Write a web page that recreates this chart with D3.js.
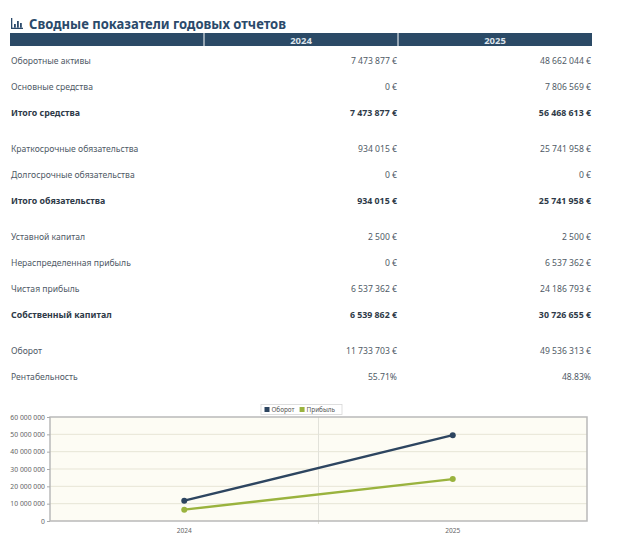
<!DOCTYPE html>
<html>
<head>
<meta charset="utf-8">
<script src="https://cdn.jsdelivr.net/npm/d3@7"></script>
<style>
  body { margin: 0; background: #fff; }
  svg text { font-family: "Noto Sans", "Open Sans", sans-serif; }
</style>
</head>
<body>
<div id="chart"></div>
<script>
// данные таблицы
const years = ['2024', '2025'];
const rowLabels = [
  'Оборотные активы', 'Основные средства', 'Итого средства',
  'Краткосрочные обязательства', 'Долгосрочные обязательства', 'Итого обязательства',
  'Уставной капитал', 'Нераспределенная прибыль', 'Чистая прибыль', 'Собственный капитал',
  'Оборот', 'Рентабельность'
];
const values2024 = [
  '7 473 877 €', '0 €', '7 473 877 €',
  '934 015 €', '0 €', '934 015 €',
  '2 500 €', '0 €', '6 537 362 €', '6 539 862 €',
  '11 733 703 €', '55.71%'
];
const values2025 = [
  '48 662 044 €', '7 806 569 €', '56 468 613 €',
  '25 741 958 €', '0 €', '25 741 958 €',
  '2 500 €', '6 537 362 €', '24 186 793 €', '30 726 655 €',
  '49 536 313 €', '48.83%'
];
const boldRows = [2, 5, 9];
const groupStarts = [3, 6, 10];

// данные графика
const seriesNames = ['Оборот', 'Прибыль'];
const turnover = [11733703, 49536313];
const profit = [6537362, 24186793];
const yTicks = [0, 10000000, 20000000, 30000000, 40000000, 50000000, 60000000];

const width = 620, height = 547;
const svg = d3.select('#chart').append('svg')
  .attr('width', width).attr('height', height);

// заголовок
const icon = svg.append('g').attr('transform', 'translate(11,18)');
icon.append('rect').attr('x', 0).attr('y', 0).attr('width', 1.3).attr('height', 11).attr('fill', '#2b4a6b');
icon.append('rect').attr('x', 0).attr('y', 9.7).attr('width', 12).attr('height', 1.3).attr('fill', '#2b4a6b');
[[3, 6], [6, 3], [9, 5]].forEach(([x, y]) => {
  icon.append('rect').attr('x', x).attr('y', y).attr('width', 1.8).attr('height', 9.7 - y).attr('fill', '#2b4a6b');
});
svg.append('text')
  .attr('x', 29).attr('y', 29)
  .attr('font-size', 14.5).attr('font-weight', 'bold')
  .attr('fill', '#2b4a6b')
  .attr('textLength', 257).attr('lengthAdjust', 'spacingAndGlyphs')
  .text('Сводные показатели годовых отчетов');

// шапка таблицы
const cols = d3.scaleBand().domain(['label', ...years]).range([10, 592]);
svg.append('rect').attr('x', 10).attr('y', 33).attr('width', 582).attr('height', 13).attr('fill', '#2b4a66');
years.forEach(y => {
  svg.append('line')
    .attr('x1', cols(y)).attr('x2', cols(y)).attr('y1', 33).attr('y2', 46)
    .attr('stroke', '#fff').attr('stroke-width', 1);
  svg.append('text')
    .attr('x', cols(y) + cols.bandwidth() / 2).attr('y', 43.5)
    .attr('text-anchor', 'middle').attr('font-size', 9.5).attr('font-weight', 'bold')
    .attr('fill', '#dde4ec').text(y);
});

// строки
let yPos = 63.5;
rowLabels.forEach((label, i) => {
  if (i > 0) yPos += 26 + (groupStarts.includes(i) ? 10 : 0);
  const bold = boldRows.includes(i);
  const g = svg.append('g')
    .attr('font-size', bold ? 8.8 : 8.6)
    .attr('font-weight', bold ? 'bold' : 'normal')
    .attr('fill', bold ? '#2e3a48' : '#4f5a66');
  g.append('text').attr('x', 11).attr('y', yPos).text(label);
  g.append('text').attr('x', cols('2025') - 1).attr('y', yPos).attr('text-anchor', 'end').text(values2024[i]);
  g.append('text').attr('x', cols.range()[1] - 1).attr('y', yPos).attr('text-anchor', 'end').text(values2025[i]);
});

// график
const plot = { left: 50, right: 587, top: 417, bottom: 521 };
const x = d3.scaleBand().domain(years).range([plot.left, plot.right]);
const y = d3.scaleLinear().domain([0, 60000000]).range([plot.bottom, plot.top]);
const fmt = v => d3.format(',')(v).replace(/,/g, ' ');

svg.append('rect')
  .attr('x', plot.left).attr('y', plot.top)
  .attr('width', plot.right - plot.left).attr('height', plot.bottom - plot.top)
  .attr('fill', '#fdfcf4');

svg.append('g').selectAll('line').data(yTicks.slice(1, -1)).join('line')
  .attr('x1', plot.left).attr('x2', plot.right)
  .attr('y1', d => y(d)).attr('y2', d => y(d))
  .attr('stroke', '#e7e5d6').attr('stroke-width', 1);

svg.append('line')
  .attr('x1', x('2025')).attr('x2', x('2025'))
  .attr('y1', plot.top).attr('y2', plot.bottom + 3)
  .attr('stroke', '#e2e2da').attr('stroke-width', 1);

svg.append('rect')
  .attr('x', plot.left).attr('y', plot.top)
  .attr('width', plot.right - plot.left).attr('height', plot.bottom - plot.top)
  .attr('fill', 'none').attr('stroke', '#b9b9b9').attr('stroke-width', 1.5);

const yAxis = svg.append('g')
  .attr('transform', `translate(${plot.left},0)`)
  .call(d3.axisLeft(y).tickValues(yTicks).tickFormat(fmt).tickSize(3).tickPadding(2));
yAxis.select('.domain').remove();
yAxis.selectAll('line').attr('stroke', '#aaa');
yAxis.selectAll('text').attr('font-size', 6.8).attr('fill', '#666')
  .style('font-family', '"Noto Sans", sans-serif');

const xAxis = svg.append('g')
  .attr('transform', `translate(0,${plot.bottom})`)
  .call(d3.axisBottom(x).tickSize(0).tickPadding(7));
xAxis.select('.domain').remove();
xAxis.selectAll('text').attr('font-size', 6.6).attr('fill', '#666')
  .style('font-family', '"Noto Sans", sans-serif');

const series = [
  { name: seriesNames[0], values: turnover, color: '#2d4560' },
  { name: seriesNames[1], values: profit, color: '#9ab33e' }
];
const line = d3.line()
  .x((d, i) => x(years[i]) + x.bandwidth() / 2)
  .y(d => y(d));

series.forEach(s => {
  svg.append('path').datum(s.values)
    .attr('d', line).attr('fill', 'none')
    .attr('stroke', s.color).attr('stroke-width', 2.4);
  svg.append('g').selectAll('circle').data(s.values).join('circle')
    .attr('cx', (d, i) => x(years[i]) + x.bandwidth() / 2)
    .attr('cy', d => y(d))
    .attr('r', 3).attr('fill', s.color);
});

// легенда
const legend = svg.append('g').attr('transform', 'translate(261,404.5)');
legend.append('rect').attr('width', 81).attr('height', 10)
  .attr('fill', '#fff').attr('stroke', '#d6d6d6').attr('stroke-width', 0.8);
let lx = 3.5;
series.forEach(s => {
  legend.append('rect').attr('x', lx).attr('y', 2.5).attr('width', 5).attr('height', 5).attr('fill', s.color);
  const t = legend.append('text').attr('x', lx + 7).attr('y', 7.6)
    .attr('font-size', 6.4).attr('fill', '#555').text(s.name);
  lx += 9 + t.node().getComputedTextLength() + 3;
});
</script>
</body>
</html>
